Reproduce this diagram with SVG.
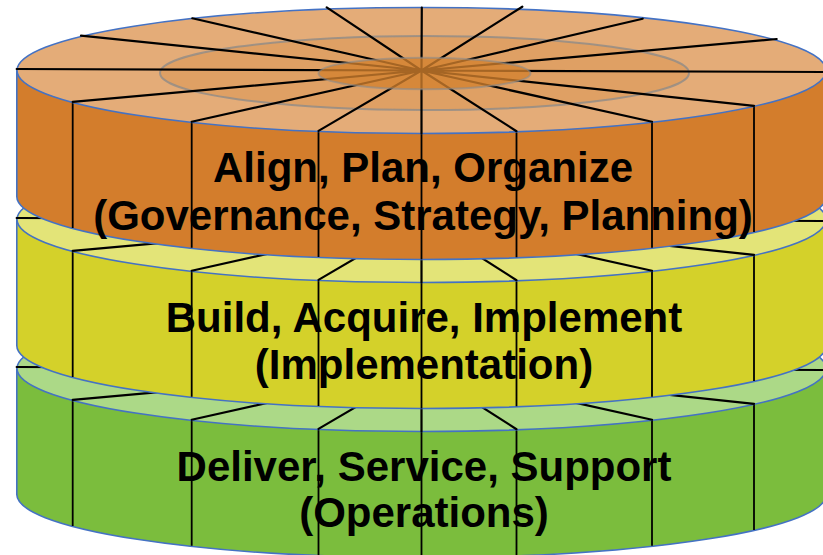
<svg xmlns="http://www.w3.org/2000/svg" xmlns:xlink="http://www.w3.org/1999/xlink" width="823" height="555" viewBox="0 0 823 555">
<style>
.side{stroke:#4472C4;stroke-width:1.6}
.top{stroke:#4472C4;stroke-width:1.6}
.spk{fill:none;stroke:#000;stroke-width:2.2;stroke-linecap:round}
.vert{fill:none;stroke:#000;stroke-width:1.8}
.lbl{font-family:"Liberation Sans",Arial,sans-serif;font-weight:bold;font-size:42px;fill:#000;text-anchor:middle}
</style>
<defs>
<path id="sidePath" d="M16.8,70.5 V196.5 A404.5,63 0 0 0 826.2,196.5 V70.5 Z"/>
<path id="spokes" d="M421.5,70.5 L16.7,69 M421.5,70.5 L81,35.7 M421.5,70.5 L192.3,18.3 M421.5,70.5 L326.7,7.3 M421.5,70.5 L421.8,7.5 M421.5,70.5 L522.3,6.7 M421.5,70.5 L642.7,18.7 M421.5,70.5 L776.7,39 M421.5,70.5 L826,72 M421.5,70.5 L72.7,101.9 M421.5,70.5 L191.7,121.8 M421.5,70.5 L318.5,130.9 M421.5,70.5 L421.5,133.5 M421.5,70.5 L516.5,131.2 M421.5,70.5 L652,121.8 M421.5,70.5 L754,105.9"/>
<path id="verts" d="M72.7,101.9 V227.9 M191.7,121.8 V247.8 M318.5,130.9 V256.9 M421.5,133.5 V259.5 M516.5,131.2 V257.2 M652,121.8 V247.8 M754,105.9 V231.9"/>
</defs>

<g id="disk-operations" transform="translate(0,298)">
<use xlink:href="#sidePath" class="side" fill="#7BBD3D"/>
<use xlink:href="#verts" class="vert"/>
<ellipse class="top" cx="421.5" cy="70.5" rx="404.5" ry="63" fill="#ACD987"/>
<use xlink:href="#spokes" class="spk"/>
</g>

<g id="disk-implementation" transform="translate(0,149)">
<use xlink:href="#sidePath" class="side" fill="#D4D12A"/>
<use xlink:href="#verts" class="vert"/>
<ellipse class="top" cx="421.5" cy="70.5" rx="404.5" ry="63" fill="#E3E478"/>
<use xlink:href="#spokes" class="spk"/>
</g>

<g id="disk-governance">
<use xlink:href="#sidePath" class="side" fill="#D37D2C"/>
<use xlink:href="#verts" class="vert"/>
<ellipse class="top" cx="421.5" cy="70.5" rx="404.5" ry="63" fill="#E4AC78"/>
<ellipse cx="424.5" cy="73" rx="264.5" ry="37" fill="#DFA064" stroke="#8A8A8A" stroke-opacity="0.75" stroke-width="2"/>
<use xlink:href="#spokes" class="spk"/>
<ellipse cx="424.5" cy="73.5" rx="106" ry="15.8" fill="#D4822E" fill-opacity="0.78" stroke="#8A8A8A" stroke-opacity="0.6" stroke-width="2"/>
</g>

<g id="labels">
<text class="lbl" x="423" y="182">Align, Plan, Organize</text>
<text class="lbl" x="423" y="230">(Governance, Strategy, Planning)</text>
<text class="lbl" x="424" y="332">Build, Acquire, Implement</text>
<text class="lbl" x="424" y="379">(Implementation)</text>
<text class="lbl" x="424" y="481">Deliver, Service, Support</text>
<text class="lbl" x="424" y="527">(Operations)</text>
</g>
</svg>
